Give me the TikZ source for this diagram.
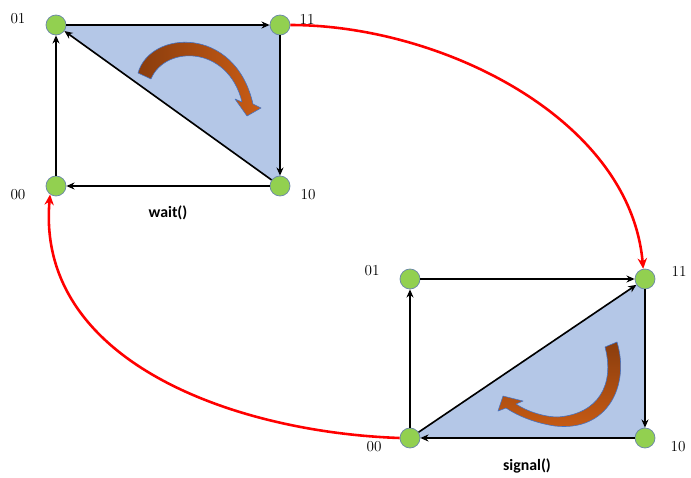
\documentclass[tikz,border=0pt]{standalone}
\usepackage{fontspec}
\setsansfont{Carlito}
\usetikzlibrary{arrows.meta,positioning,backgrounds}

\definecolor{stategreen}{HTML}{92D050}
\definecolor{stateedge}{HTML}{6A86A8}
\definecolor{regionblue}{HTML}{B4C7E7}
\definecolor{turndark}{HTML}{8A3D0E}
\definecolor{turnlight}{HTML}{C95C14}
\definecolor{turnedge}{HTML}{4472C4}

\begin{document}
\begin{tikzpicture}[
        x=0.03cm, y=-0.03cm,
        every node/.style={font=\fontsize{13}{15}\selectfont},
        state/.style={circle, fill=stategreen, draw=stateedge, line width=0.6pt, minimum size=0.6cm, inner sep=0pt},
        trans/.style={-{Stealth[length=7pt,width=6pt]}, line width=1.4pt, black},
        jump/.style={-{Stealth[length=9pt,width=8pt]}, line width=2.2pt, red},
        call/.style={font=\sffamily\bfseries\fontsize{13.5}{15}\selectfont},
        region/.style={fill=regionblue},
        turn/.style={draw=turnedge, line width=0.5pt, line join=round}
    ]
        \useasboundingbox (0,0) rectangle (691,478);

        % States, upper square
        \node[state] (t01) at (56,25) {};
        \node[state] (t11) at (280,25) {};
        \node[state] (t00) at (56,186) {};
        \node[state] (t10) at (280,186) {};

        % States, lower square
        \node[state] (b01) at (410,279) {};
        \node[state] (b11) at (645,279) {};
        \node[state] (b00) at (410,438) {};
        \node[state] (b10) at (645,438) {};

        % Labels
        \node (lt01) at (18,19) {01};
        \node (lt11) at (307,19) {11};
        \node (lt00) at (18,195) {00};
        \node (lt10) at (308,195) {10};
        \node (lb01) at (372,271) {01};
        \node (lb11) at (679,271) {11};
        \node (lb00) at (374,447) {00};
        \node (lb10) at (678,447) {10};
        \node[call] (wait) at (168,213) {wait()};
        \node[call] (signal) at (527,466) {signal()};

        % Shaded triangles
        \begin{scope}[on background layer]
            \fill[region] (t01.center) -- (t11.center) -- (t10.center) -- cycle;
            \fill[region] (b00.center) -- (b11.center) -- (b10.center) -- cycle;
        \end{scope}

        % Turning arrows
        \path[turn, left color=turndark, right color=turnlight]
            (138,73) .. controls (150,30) and (235,25) .. (253,104)
            -- (261,108) -- (247,116) -- (235,99) -- (242,102)
            .. controls (228,45) and (165,45) .. (151,79) -- cycle;
        \path[turn, top color=turndark, bottom color=turnlight]
            (605,347) -- (617,342)
            .. controls (630,385) and (608,432) .. (555,426)
            .. controls (535,423) and (518,416) .. (506,408)
            -- (498,411) -- (503,396) -- (523,401) -- (516,404)
            .. controls (528,412) and (545,417) .. (558,417)
            .. controls (598,414) and (615,385) .. (605,347) -- cycle;

        % Connections, upper square
        \draw[trans] (t01) -- (t11);
        \draw[trans] (t11) -- (t10);
        \draw[trans] (t10) -- (t00);
        \draw[trans] (t00) -- (t01);
        \draw[trans] (t10) -- (t01);

        % Connections, lower square
        \draw[trans] (b01) -- (b11);
        \draw[trans] (b11) -- (b10);
        \draw[trans] (b10) -- (b00);
        \draw[trans] (b00) -- (b01);
        \draw[trans] (b00) -- (b11);

        % Jumps between squares
        \draw[jump] (t11.east) to[out=0, in=95, looseness=0.9] (b11.100);
        \draw[jump] (b00.west) to[out=178, in=-95] (t00.235);

    \end{tikzpicture}
\end{document}
